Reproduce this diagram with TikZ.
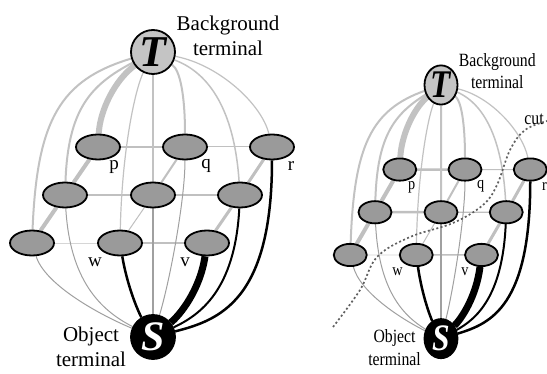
\documentclass[tikz,border=0pt]{standalone}
\usepackage{fontspec}
\setmainfont{Liberation Serif}
\usetikzlibrary{shapes.geometric}
\pgfdeclarelayer{bglayer}
\pgfdeclarelayer{edgelayer}
\pgfsetlayers{bglayer,edgelayer,main}
\definecolor{pixfill}{HTML}{9A9A9A}
\definecolor{tfill}{HTML}{C4C4C4}
\definecolor{tlink}{HTML}{C2C2C2}
\definecolor{nlink}{HTML}{C0C0C0}
\definecolor{nlinklight}{HTML}{D6D6D6}
\definecolor{slink}{HTML}{A0A0A0}
\definecolor{cutcol}{HTML}{606060}
\tikzset{
  pixnode/.style={ellipse, draw=black, line width=1.8pt, fill=pixfill, minimum width=44pt, minimum height=25pt, inner sep=0pt},
  termnode/.style={circle, draw=black, line width=1.8pt, minimum size=44pt, inner sep=0pt},
  lbl/.style={font=\fontsize{19}{19}\selectfont, inner sep=0pt},
  termlbl/.style={font=\fontsize{21}{25}\selectfont, align=center, inner sep=0pt},
  tl/.style={draw=tlink, line width=#1},
  nl/.style={draw=nlink, line width=#1},
  sl/.style={draw=slink, line width=#1},
  ol/.style={draw=black, line width=#1},
  cutline/.style={draw=cutcol, line width=1.7pt, dash pattern=on 2pt off 2.4pt}
}
\newcommand\gcpanel[1]{%
  \node[termnode, fill=tfill] (#1T) at (153,52) {\fontsize{44}{44}\selectfont\bfseries\itshape T};
  \node[termnode, fill=black, text=white] (#1S) at (153,337) {\fontsize{42}{42}\selectfont\bfseries\itshape S};
  \node[pixnode] (#1a1) at (98,147) {};
  \node[pixnode] (#1a2) at (185,147) {};
  \node[pixnode] (#1a3) at (272,147) {};
  \node[pixnode] (#1b1) at (65,195) {};
  \node[pixnode] (#1b2) at (153,195) {};
  \node[pixnode] (#1b3) at (240,195) {};
  \node[pixnode] (#1c1) at (32,243) {};
  \node[pixnode] (#1c2) at (120,243) {};
  \node[pixnode] (#1c3) at (207,243) {};
  \node[lbl] (#1lp) at (114,167) {p};
  \node[lbl] (#1lq) at (206,166) {q};
  \node[lbl] (#1lr) at (291,166) {r};
  \node[lbl] (#1lw) at (95,262) {w};
  \node[lbl] (#1lv) at (185,262) {v};
  \node[termlbl] (#1bt) at (228,36) {Background\\terminal};
  \node[termlbl] (#1ot) at (91,347) {Object\\terminal};
  \begin{pgfonlayer}{edgelayer}
    % n-links
    \draw[nl=2.5pt] (#1a1) -- (#1a2);
    \draw[nl=1pt] (#1a2) -- (#1a3);
    \draw[nl=2.5pt] (#1b1) -- (#1b2);
    \draw[nl=1.2pt] (#1b2) -- (#1b3);
    \draw[draw=nlinklight, line width=0.8pt] (#1c1) -- (#1c2);
    \draw[nl=1.5pt] (#1c2) -- (#1c3);
    \draw[nl=4pt] (#1a1) -- (#1b1);
    \draw[nl=2pt] (#1a2) -- (#1b2);
    \draw[nl=3pt] (#1a3) -- (#1b3);
    \draw[nl=4pt] (#1b1) -- (#1c1);
    \draw[nl=1pt] (#1b2) -- (#1c2);
    \draw[nl=3pt] (#1b3) -- (#1c3);
    % t-links to T
    \draw[tl=2pt] (#1T) .. controls (60,80) and (37,120) .. (#1c1);
    \draw[tl=2pt] (#1T) .. controls (90,85) and (68,110) .. (#1b1);
    \draw[tl=6pt] (#1T) .. controls (115,80) and (100,110) .. (#1a1);
    \draw[tl=1.2pt] (#1T) .. controls (135,90) and (122,150) .. (#1c2);
    \draw[tl=2pt] (#1T) -- (#1b2);
    \draw[tl=2pt] (#1T) .. controls (180,70) and (185,95) .. (#1a2);
    \draw[tl=1.5pt] (#1T) .. controls (215,75) and (235,120) .. (#1b3);
    \draw[tl=1.2pt] (#1T) .. controls (220,65) and (262,105) .. (#1a3);
    % t-links to S
    \draw[sl=1pt] (#1c1) .. controls (45,285) and (100,315) .. (#1S);
    \draw[sl=1pt] (#1b1) .. controls (70,280) and (100,310) .. (#1S);
    \draw[ol=2.5pt] (#1c2) .. controls (128,290) and (140,315) .. (#1S);
    \draw[sl=1.5pt] (#1b2) -- (#1S);
    \draw[sl=1pt] (#1a2) .. controls (185,200) and (170,280) .. (#1S);
    \draw[ol=7pt] (#1c3) .. controls (200,290) and (180,315) .. (#1S);
    \draw[ol=2pt] (#1b3) .. controls (235,290) and (200,315) .. (#1S);
    \draw[ol=2.5pt] (#1a3) .. controls (272,300) and (220,320) .. (#1S);
  \end{pgfonlayer}
}
\begin{document}
\begin{tikzpicture}[x=1pt, y=-1pt]
  \useasboundingbox (0,0) rectangle (547,374);
  \begin{pgfonlayer}{bglayer}
    \fill[white] (0,0) rectangle (547,374);
  \end{pgfonlayer}
  \gcpanel{L}
  \begin{scope}[shift={(326.25,38.7)}, xscale=0.75, yscale=0.89, transform shape]
    \gcpanel{R}
    \node[termlbl, anchor=west] (cutlbl) at (264,91) {cut};
  \end{scope}
  \draw[cutline] plot[smooth, tension=0.6] coordinates {(333,327) (360,290) (377,257) (410,237) (453,223) (483,205) (497,185) (510,150) (525,130) (547,121)};
\end{tikzpicture}
\end{document}
